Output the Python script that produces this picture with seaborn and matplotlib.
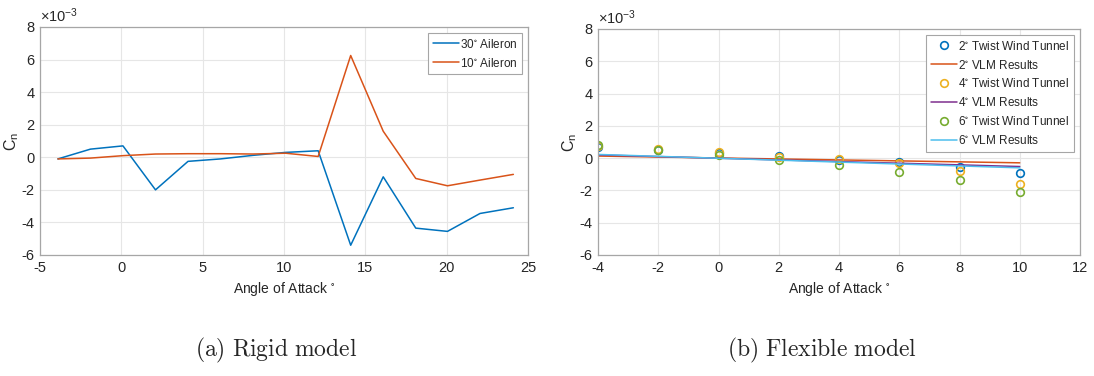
import numpy as np
import pandas as pd
import matplotlib
matplotlib.use('Agg')
import matplotlib.pyplot as plt
import seaborn as sns

# Rigid model data (Cn in units of 1e-3)
aoa_rigid = [-3.9, -1.9, 0.1, 2.1, 4.1, 6.1, 8.1, 10.1, 12.1, 14.1, 16.1, 18.1, 20.05, 22.05, 24.1]
cn_30_aileron = [-0.1, 0.5, 0.7, -2.0, -0.25, -0.1, 0.12, 0.3, 0.4, -5.4, -1.2, -4.35, -4.55, -3.45, -3.1]
cn_10_aileron = [-0.1, -0.05, 0.1, 0.2, 0.22, 0.22, 0.2, 0.25, 0.05, 6.25, 1.6, -1.3, -1.75, -1.4, -1.05]

# Flexible model data (Cn in units of 1e-3)
aoa_flex = [-4, -2, 0, 2, 4, 6, 8, 10]
cn_wt_2 = [0.72, 0.5, 0.3, 0.15, -0.1, -0.22, -0.55, -0.9]
cn_wt_4 = [0.75, 0.55, 0.35, 0.08, -0.08, -0.33, -0.8, -1.58]
cn_wt_6 = [0.8, 0.5, 0.22, -0.12, -0.41, -0.84, -1.35, -2.08]
aoa_vlm = [-4, 10]
cn_vlm_2 = [0.13, -0.29]
cn_vlm_4 = [0.2, -0.52]
cn_vlm_6 = [0.23, -0.6]

BLUE, ORANGE, YELLOW = '#0072BD', '#D95319', '#EDB120'
PURPLE, GREEN, CYAN = '#7E2F8E', '#77AC30', '#4DBEEE'

sns.set_style('white')
plt.rcParams['font.family'] = ['Liberation Sans', 'DejaVu Sans']
plt.rcParams['mathtext.default'] = 'regular'
plt.rcParams['axes.unicode_minus'] = False

fig = plt.figure(figsize=(10.94, 3.76), dpi=100)
ax1 = fig.add_axes([40 / 1094, 1 - 255 / 376, 488 / 1094, 228 / 376])
ax2 = fig.add_axes([598 / 1094, 1 - 255 / 376, 482 / 1094, 226 / 376])

# rigid model
sns.lineplot(x=aoa_rigid, y=cn_30_aileron, ax=ax1, color=BLUE, lw=1.1,
             label=r'30$^{\circ}$ Aileron')
sns.lineplot(x=aoa_rigid, y=cn_10_aileron, ax=ax1, color=ORANGE, lw=1.1,
             label=r'10$^{\circ}$ Aileron')
ax1.set_xlim(-5, 25)
ax1.set_xticks(range(-5, 26, 5))

# flexible model
series = [
    (cn_wt_2, cn_vlm_2, BLUE, ORANGE, '2'),
    (cn_wt_4, cn_vlm_4, YELLOW, PURPLE, '4'),
    (cn_wt_6, cn_vlm_6, GREEN, CYAN, '6'),
]
for wt, vlm, c_wt, c_vlm, tw in series:
    sns.lineplot(x=aoa_flex, y=wt, ax=ax2, marker='o', linestyle='', ms=5.5,
                 mfc='none', mec=c_wt, mew=1.2, color=c_wt,
                 label=tw + r'$^{\circ}$ Twist Wind Tunnel')
    sns.lineplot(x=aoa_vlm, y=vlm, ax=ax2, color=c_vlm, lw=1.1,
                 label=tw + r'$^{\circ}$ VLM Results')
ax2.set_xlim(-4, 12)
ax2.set_xticks(range(-4, 13, 2))

for ax in (ax1, ax2):
    ax.set_ylim(-6, 8)
    ax.set_yticks(range(-6, 9, 2))
    ax.grid(True, color='#e6e6e6', lw=0.8)
    ax.set_axisbelow(True)
    for sp in ax.spines.values():
        sp.set_color('#a6a6a6')
        sp.set_linewidth(0.9)
    ax.tick_params(axis='both', labelsize=10.5, colors='#262626', length=3,
                   direction='in', width=0.8, pad=4)
    ax.tick_params(axis='both', color='#a6a6a6')
    ax.set_xlabel(r'Angle of Attack $^{\circ}$', fontsize=10, color='#262626')
    ax.set_ylabel(r'$C_n$', fontsize=11.5, color='#262626', labelpad=0)
    ax.text(0.0, 1.01, r'$\times10^{-3}$', transform=ax.transAxes, fontsize=10.5,
            color='#262626', ha='left', va='bottom')
    leg = ax.legend(loc='upper right', fontsize=8.5, frameon=True, fancybox=False,
                    framealpha=1, edgecolor='#a6a6a6', handlelength=2.2,
                    handletextpad=0.1, borderaxespad=0.5, labelspacing=0.5)
    leg.get_frame().set_linewidth(0.8)

fig.text(276 / 1094, 1 - 350 / 376, r'$\mathrm{(a)\ Rigid\ model}$', math_fontfamily='cm',
         fontsize=17, ha='center', va='center')
fig.text(822 / 1094, 1 - 350 / 376, r'$\mathrm{(b)\ Flexible\ model}$', math_fontfamily='cm',
         fontsize=17, ha='center', va='center')

fig.savefig('out.png', dpi=100)
